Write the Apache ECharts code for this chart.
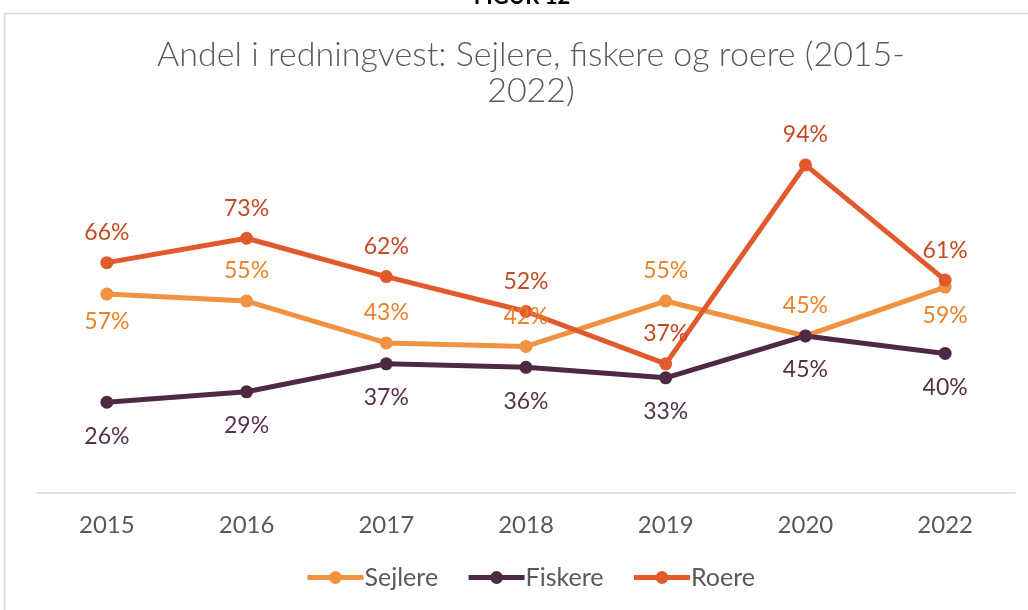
<!DOCTYPE html>
<html>
<head>
<meta charset="utf-8">
<script src="https://cdn.jsdelivr.net/npm/echarts@6/dist/echarts.min.js"></script>
<style>
	html, body { margin: 0; padding: 0; background: #fff; }
	#chart { width: 1028px; height: 610px; }
</style>
</head>
<body>
<div id="chart"></div>
<script>
// Andel i redningvest
const years = ["2015", "2016", "2017", "2018", "2019", "2020", "2022"]
const sejlere = [57, 55, 43, 42, 55, 45, 59]
const fiskere = [26, 29, 37, 36, 33, 45, 40]
const roere = [66, 73, 62, 52, 37, 94, 61]
// label side for Sejlere points
const sejlerePos = ["bottom", "top", "top", "top", "top", "top", "bottom"]

const font = "Lato, 'Noto Sans', sans-serif"

function makeSeries(name, values, lineColor, labelColor, positions, gaps) {
	return {
		name: name,
		type: "line",
		data: values.map(function (v, i) {
			return {
				value: v,
				label: {position: positions[i], distance: gaps[positions[i]]}
			}
		}),
		symbol: "circle",
		symbolSize: 13,
		lineStyle: {width: 5, color: lineColor},
		itemStyle: {color: lineColor},
		label: {
			show: true,
			formatter: "{c}%",
			color: labelColor,
			fontSize: 23,
			fontFamily: font
		},
		emphasis: {disabled: true},
		animation: false
	}
}

let allTop = years.map(function () { return "top" })
let allBottom = years.map(function () { return "bottom" })

let chart = echarts.init(document.getElementById("chart"))
chart.setOption({
	title: {
		text: "Andel i redningvest: Sejlere, fiskere og roere (2015-\n2022)",
		left: 526,
		textAlign: "center",
		top: 32,
		textStyle: {
			color: "#595959",
			fontSize: 34,
			fontWeight: 300,
			fontFamily: font,
			lineHeight: 36
		}
	},
	graphic: [
		{
			type: "rect",
			shape: {x: 4.5, y: 13.5, width: 1040, height: 620},
			style: {fill: "none", stroke: "#d9d9d9", lineWidth: 1.5}
		},
		{
			type: "text",
			x: 522,
			y: -14,
			style: {
				text: "FIGUR 12",
				fill: "#000",
				font: "bold 22px " + font,
				textAlign: "center",
				textVerticalAlign: "top"
			}
		}
	],
	legend: {
		bottom: 15,
		left: 300,
		itemWidth: 56,
		itemHeight: 16,
		itemGap: 28,
		lineStyle: {width: 5},
		textStyle: {color: "#595959", fontSize: 25, fontFamily: font, padding: [0, 0, 0, -4]},
		data: ["Sejlere", "Fiskere", "Roere"]
	},
	grid: {
		left: 37,
		right: 13,
		top: 144,
		bottom: 117
	},
	xAxis: {
		type: "category",
		data: years,
		axisLine: {lineStyle: {color: "#d9d9d9", width: 1.5}},
		axisTick: {show: false},
		axisLabel: {color: "#595959", fontSize: 24, fontFamily: font, margin: 20}
	},
	yAxis: {
		type: "value",
		min: 0,
		max: 100,
		show: false
	},
	series: [
		makeSeries("Sejlere", sejlere, "#F0923F", "#E8832B", sejlerePos, {top: 12, bottom: 10}),
		makeSeries("Fiskere", fiskere, "#4E2943", "#55324B", allBottom, {bottom: 16}),
		makeSeries("Roere", roere, "#E15A2D", "#C44A22", allTop, {top: 12})
	]
})
</script>
</body>
</html>
